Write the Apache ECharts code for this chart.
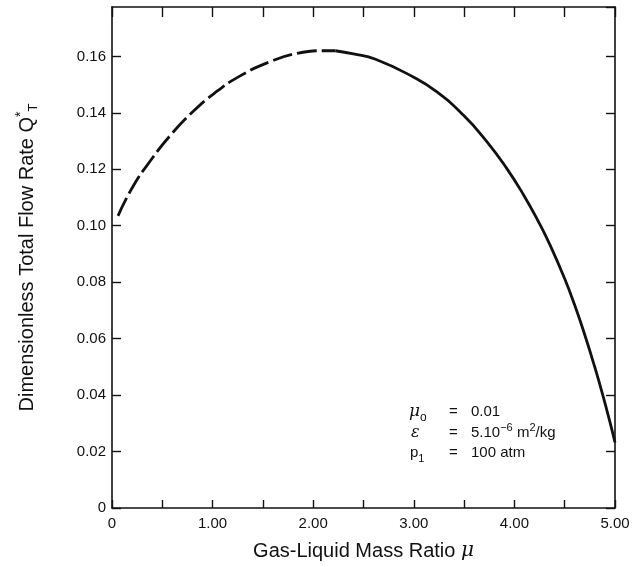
<!DOCTYPE html>
<html>
<head>
<meta charset="utf-8">
<script src="https://cdn.jsdelivr.net/npm/echarts@6/dist/echarts.min.js"></script>
<style>
html,body{margin:0;padding:0;background:#fff;}
#chart{width:638px;height:567px;}
</style>
</head>
<body>
<div id="chart"></div>
<script>
// Dashed (extrapolated) part of the curve
const dashedX = [0.06, 0.21, 0.40, 0.58, 0.78, 1.02, 1.27, 1.57, 1.84, 2.10, 2.22];
const dashedY = [0.1035, 0.114, 0.1239, 0.132, 0.1396, 0.147, 0.153, 0.1581, 0.1611, 0.1620, 0.1620];
// Solid part of the curve
const solidX = [2.22, 2.40, 2.62, 3.00, 3.23, 3.49, 3.72, 3.92, 4.09, 4.24, 4.35, 4.50, 4.60, 4.70, 4.80, 4.88, 4.95, 5.00];
const solidY = [0.1620, 0.1609, 0.159, 0.1526, 0.1474, 0.1393, 0.1301, 0.1205, 0.111, 0.1014, 0.0935, 0.0812, 0.0718, 0.0613, 0.0498, 0.0398, 0.0304, 0.0232];
// Axis settings
const xMin = 0, xMax = 5, xStep = 0.5;
const yMin = 0, yMax = 0.1775, yStep = 0.02;
const xAxisTitle = 'Gas-Liquid Mass Ratio {it|μ}';
const yAxisTitle = 'Dimensionless Total Flow Rate Q{sup|*}{sub|T}';

const FONT = 'Liberation Sans, Arial, Helvetica, sans-serif';
const chart = echarts.init(document.getElementById('chart'), null, {renderer: 'canvas'});

function xLab(v) {
  if (Math.abs(v) < 1e-9) return '0';
  if (Math.abs(v - Math.round(v)) < 1e-9) return v.toFixed(2);
  return '';
}
function yLab(v) {
  if (Math.abs(v) < 1e-9) return '0';
  const k = v / yStep;
  if (Math.abs(k - Math.round(k)) > 1e-6) return '';
  return v.toFixed(2);
}
const lineStyleAxis = {color: '#111', width: 1.6};

const option = {
  animation: false,
  backgroundColor: '#fff',
  grid: {left: 112, right: 23, top: 7, bottom: 59, containLabel: false},
  xAxis: [{
    type: 'value', min: xMin, max: xMax, interval: xStep, position: 'bottom',
    axisLine: {show: true, onZero: false, lineStyle: lineStyleAxis},
    axisTick: {show: true, inside: true, length: 8, lineStyle: {color: '#111', width: 1.4}},
    axisLabel: {formatter: xLab, color: '#111', fontSize: 15, fontFamily: FONT, margin: 8},
    splitLine: {show: false},
    name: xAxisTitle, nameLocation: 'middle', nameGap: 33,
    nameTextStyle: {color: '#111', fontSize: 20, fontFamily: FONT,
      rich: {it: {fontStyle: 'italic', fontSize: 20, fontFamily: 'DejaVu Serif, serif', color: '#111'}}}
  }, {
    type: 'value', min: xMin, max: xMax, interval: xStep, position: 'top',
    axisLine: {show: true, onZero: false, lineStyle: lineStyleAxis},
    axisTick: {show: true, inside: true, length: 10, lineStyle: {color: '#111', width: 1.4}},
    axisLabel: {show: false}, splitLine: {show: false}
  }],
  yAxis: [{
    type: 'value', min: yMin, max: yMax, interval: yStep, position: 'left',
    axisLine: {show: true, onZero: false, lineStyle: lineStyleAxis},
    axisTick: {show: true, inside: true, length: 9, lineStyle: {color: '#111', width: 1.4}},
    axisLabel: {formatter: yLab, color: '#111', fontSize: 15, fontFamily: FONT, margin: 6, showMaxLabel: false},
    splitLine: {show: false},
    name: yAxisTitle, nameLocation: 'middle', nameGap: 72,
    nameTextStyle: {color: '#111', fontSize: 20, fontFamily: FONT,
      rich: {
        sup: {fontSize: 14, fontFamily: FONT, color: '#111', verticalAlign: 'top', lineHeight: 26},
        sub: {fontSize: 13, fontFamily: FONT, color: '#111', verticalAlign: 'bottom', lineHeight: 26}
      }}
  }, {
    type: 'value', min: yMin, max: yMax, interval: yStep, position: 'right',
    axisLine: {show: true, onZero: false, lineStyle: lineStyleAxis},
    axisTick: {show: true, inside: true, length: 9, lineStyle: {color: '#111', width: 1.4}},
    axisLabel: {show: false}, splitLine: {show: false}
  }],
  series: [{
    type: 'line', name: 'dashed', xAxisIndex: 0, yAxisIndex: 0,
    data: dashedX.map((x, i) => [x, dashedY[i]]),
    smooth: 0.5, showSymbol: false,
    lineStyle: {color: '#111', width: 2.8, type: [20, 5]}
  }, {
    type: 'line', name: 'solid', xAxisIndex: 0, yAxisIndex: 0,
    data: solidX.map((x, i) => [x, solidY[i]]),
    smooth: 0.5, showSymbol: false,
    lineStyle: {color: '#111', width: 2.8, type: 'solid'}
  }],
  graphic: [
    {type: 'text', x: 409, y: 412, style: {text: '{i|μ}{s|o}', verticalAlign: 'middle', fill: '#111',
      rich: {i: {fontSize: 17, fontStyle: 'italic', fontFamily: 'DejaVu Serif, serif', fill: '#111'},
             s: {fontSize: 12, fontFamily: FONT, fill: '#111', verticalAlign: 'bottom', lineHeight: 24}}}},
    {type: 'text', x: 411, y: 433, style: {text: '{i|ε}', verticalAlign: 'middle', fill: '#111',
      rich: {i: {fontSize: 16, fontStyle: 'italic', fontFamily: 'DejaVu Serif, serif', fill: '#111'}}}},
    {type: 'text', x: 410, y: 453, style: {text: 'p{s|1}', verticalAlign: 'middle', fill: '#111', font: '15px ' + FONT,
      rich: {s: {fontSize: 11, fontFamily: FONT, fill: '#111', verticalAlign: 'bottom', lineHeight: 22}}}},
    {type: 'text', x: 449, y: 412, style: {text: '=', verticalAlign: 'middle', fill: '#111', font: '15px ' + FONT}},
    {type: 'text', x: 449, y: 433, style: {text: '=', verticalAlign: 'middle', fill: '#111', font: '15px ' + FONT}},
    {type: 'text', x: 449, y: 453, style: {text: '=', verticalAlign: 'middle', fill: '#111', font: '15px ' + FONT}},
    {type: 'text', x: 471, y: 412, style: {text: '0.01', verticalAlign: 'middle', fill: '#111', font: '15px ' + FONT}},
    {type: 'text', x: 471, y: 433, style: {text: '5.10{p|−6} m{p|2}/kg', verticalAlign: 'middle', fill: '#111', font: '15px ' + FONT,
      rich: {p: {fontSize: 11, fontFamily: FONT, fill: '#111', verticalAlign: 'top', lineHeight: 22}}}},
    {type: 'text', x: 471, y: 453, style: {text: '100 atm', verticalAlign: 'middle', fill: '#111', font: '15px ' + FONT}}
  ]
};
chart.setOption(option);
</script>
</body>
</html>
